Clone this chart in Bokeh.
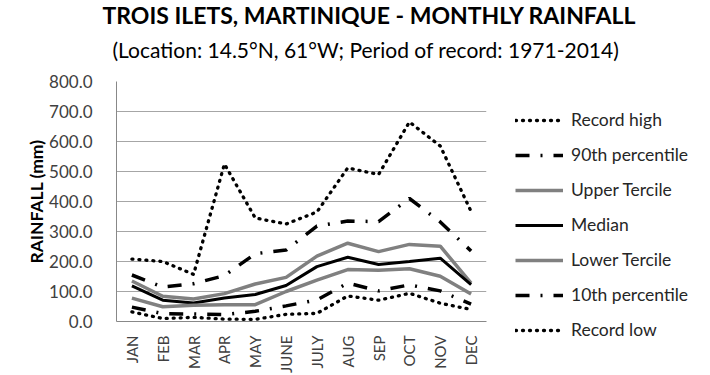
from math import pi
from bokeh.plotting import figure
from bokeh.models import (ColumnDataSource, Legend, LegendItem, Title, NumeralTickFormatter,
                          FixedTicker, Range1d, FactorRange)
from bokeh.embed import file_html
from bokeh.resources import INLINE

months = ["JAN", "FEB", "MAR", "APR", "MAY", "JUNE", "JULY", "AUG", "SEP", "OCT", "NOV", "DEC"]
record_high = [208, 200, 157, 525, 345, 325, 365, 512, 490, 665, 585, 367]
p90 = [155, 115, 126, 153, 226, 238, 318, 335, 333, 410, 332, 235]
upper_tercile = [135, 84, 75, 93, 125, 147, 218, 261, 233, 257, 251, 128]
median = [119, 71, 62, 78, 90, 120, 183, 214, 190, 200, 211, 123]
lower_tercile = [78, 49, 54, 56, 56, 100, 138, 173, 171, 176, 151, 92]
p10 = [48, 26, 25, 23, 34, 52, 72, 128, 102, 122, 102, 58]
record_low = [32, 10, 14, 8, 7, 24, 27, 85, 71, 94, 61, 40]
y_ticks = [0, 100, 200, 300, 400, 500, 600, 700, 800]

title_text = "TROIS ILETS, MARTINIQUE - MONTHLY RAINFALL"
subtitle_text = "(Location: 14.5\u00b0N, 61\u00b0W; Period of record: 1971-2014)"

FONT = "Lato"

src = ColumnDataSource(dict(month=months, rh=record_high, p90=p90, ut=upper_tercile,
                            md=median, lt=lower_tercile, p10=p10, rl=record_low))

p = figure(x_range=FactorRange(*months), y_range=Range1d(0, 800),
           frame_width=370, height=375, output_backend="svg", toolbar_location=None,
           min_border_left=116, min_border_right=224, min_border_top=81, min_border_bottom=46)
p.outline_line_color = None
p.background_fill_color = "white"
p.border_fill_color = "white"

# titles: main title outermost, subtitle nearest the plot
p.title.text = title_text
p.title.align = "left"
p.title.offset = -14
p.title.text_font = FONT
p.title.text_font_size = "23px"
p.title.text_font_style = "bold"
p.title.text_color = "black"
p.title.standoff = -29
p.add_layout(Title(text=subtitle_text, align="left", offset=-4, text_font=FONT,
                   text_font_size="21px", text_font_style="normal", text_color="black",
                   standoff=40), "above")

# grid
p.xgrid.grid_line_color = None
p.ygrid.grid_line_color = "#a6a6a6"
p.ygrid.grid_line_width = 1.2

# y axis
p.yaxis.ticker = FixedTicker(ticks=y_ticks)
p.yaxis.formatter = NumeralTickFormatter(format="0.0")
p.yaxis.major_tick_line_color = None
p.yaxis.minor_tick_line_color = None
p.yaxis.axis_line_color = "#888888"
p.yaxis.major_label_text_font = FONT
p.yaxis.major_label_text_font_size = "17px"
p.yaxis.major_label_text_color = "#404040"
p.yaxis.major_label_standoff = 18
p.yaxis.axis_label = "RAINFALL (mm)"
p.yaxis.axis_label_text_font = FONT
p.yaxis.axis_label_text_font_style = "bold"
p.yaxis.axis_label_text_font_size = "17.5px"
p.yaxis.axis_label_text_color = "#000000"
p.yaxis.axis_label_standoff = -1

# x axis
p.xaxis.major_label_orientation = pi / 2
p.xaxis.major_tick_line_color = None
p.xaxis.minor_tick_line_color = None
p.xaxis.axis_line_color = "#888888"
p.xaxis.major_label_text_font = FONT
p.xaxis.major_label_text_font_size = "15px"
p.xaxis.major_label_text_color = "#404040"
p.xaxis.major_label_standoff = 8

dot = dict(line_dash="1 6", line_cap="round", line_width=3.3, line_color="black")
dashdot = dict(line_dash="14 11 2 11", line_width=3.5, line_color="black")

r_rh = p.line("month", "rh", source=src, **dot)
r_p90 = p.line("month", "p90", source=src, **dashdot)
r_ut = p.line("month", "ut", source=src, line_color="#808080", line_width=3.5)
r_md = p.line("month", "md", source=src, line_color="black", line_width=3)
r_lt = p.line("month", "lt", source=src, line_color="#808080", line_width=3.5)
r_p10 = p.line("month", "p10", source=src, **dashdot)
r_rl = p.line("month", "rl", source=src, **dot)

legend = Legend(items=[
    LegendItem(label="Record high", renderers=[r_rh]),
    LegendItem(label="90th percentile", renderers=[r_p90]),
    LegendItem(label="Upper Tercile", renderers=[r_ut]),
    LegendItem(label="Median", renderers=[r_md]),
    LegendItem(label="Lower Tercile", renderers=[r_lt]),
    LegendItem(label="10th percentile", renderers=[r_p10]),
    LegendItem(label="Record low", renderers=[r_rl]),
], location=(29, -19))
legend.glyph_width = 48
legend.glyph_height = 20
legend.label_height = 20
legend.spacing = 14
legend.label_standoff = 8
legend.margin = 0
legend.padding = 5
legend.border_line_color = None
legend.background_fill_alpha = 0
legend.label_text_font = FONT
legend.label_text_font_size = "17.5px"
legend.label_text_color = "#262626"
p.add_layout(legend, "right")

open("out.html", "w").write(file_html(p, INLINE))
